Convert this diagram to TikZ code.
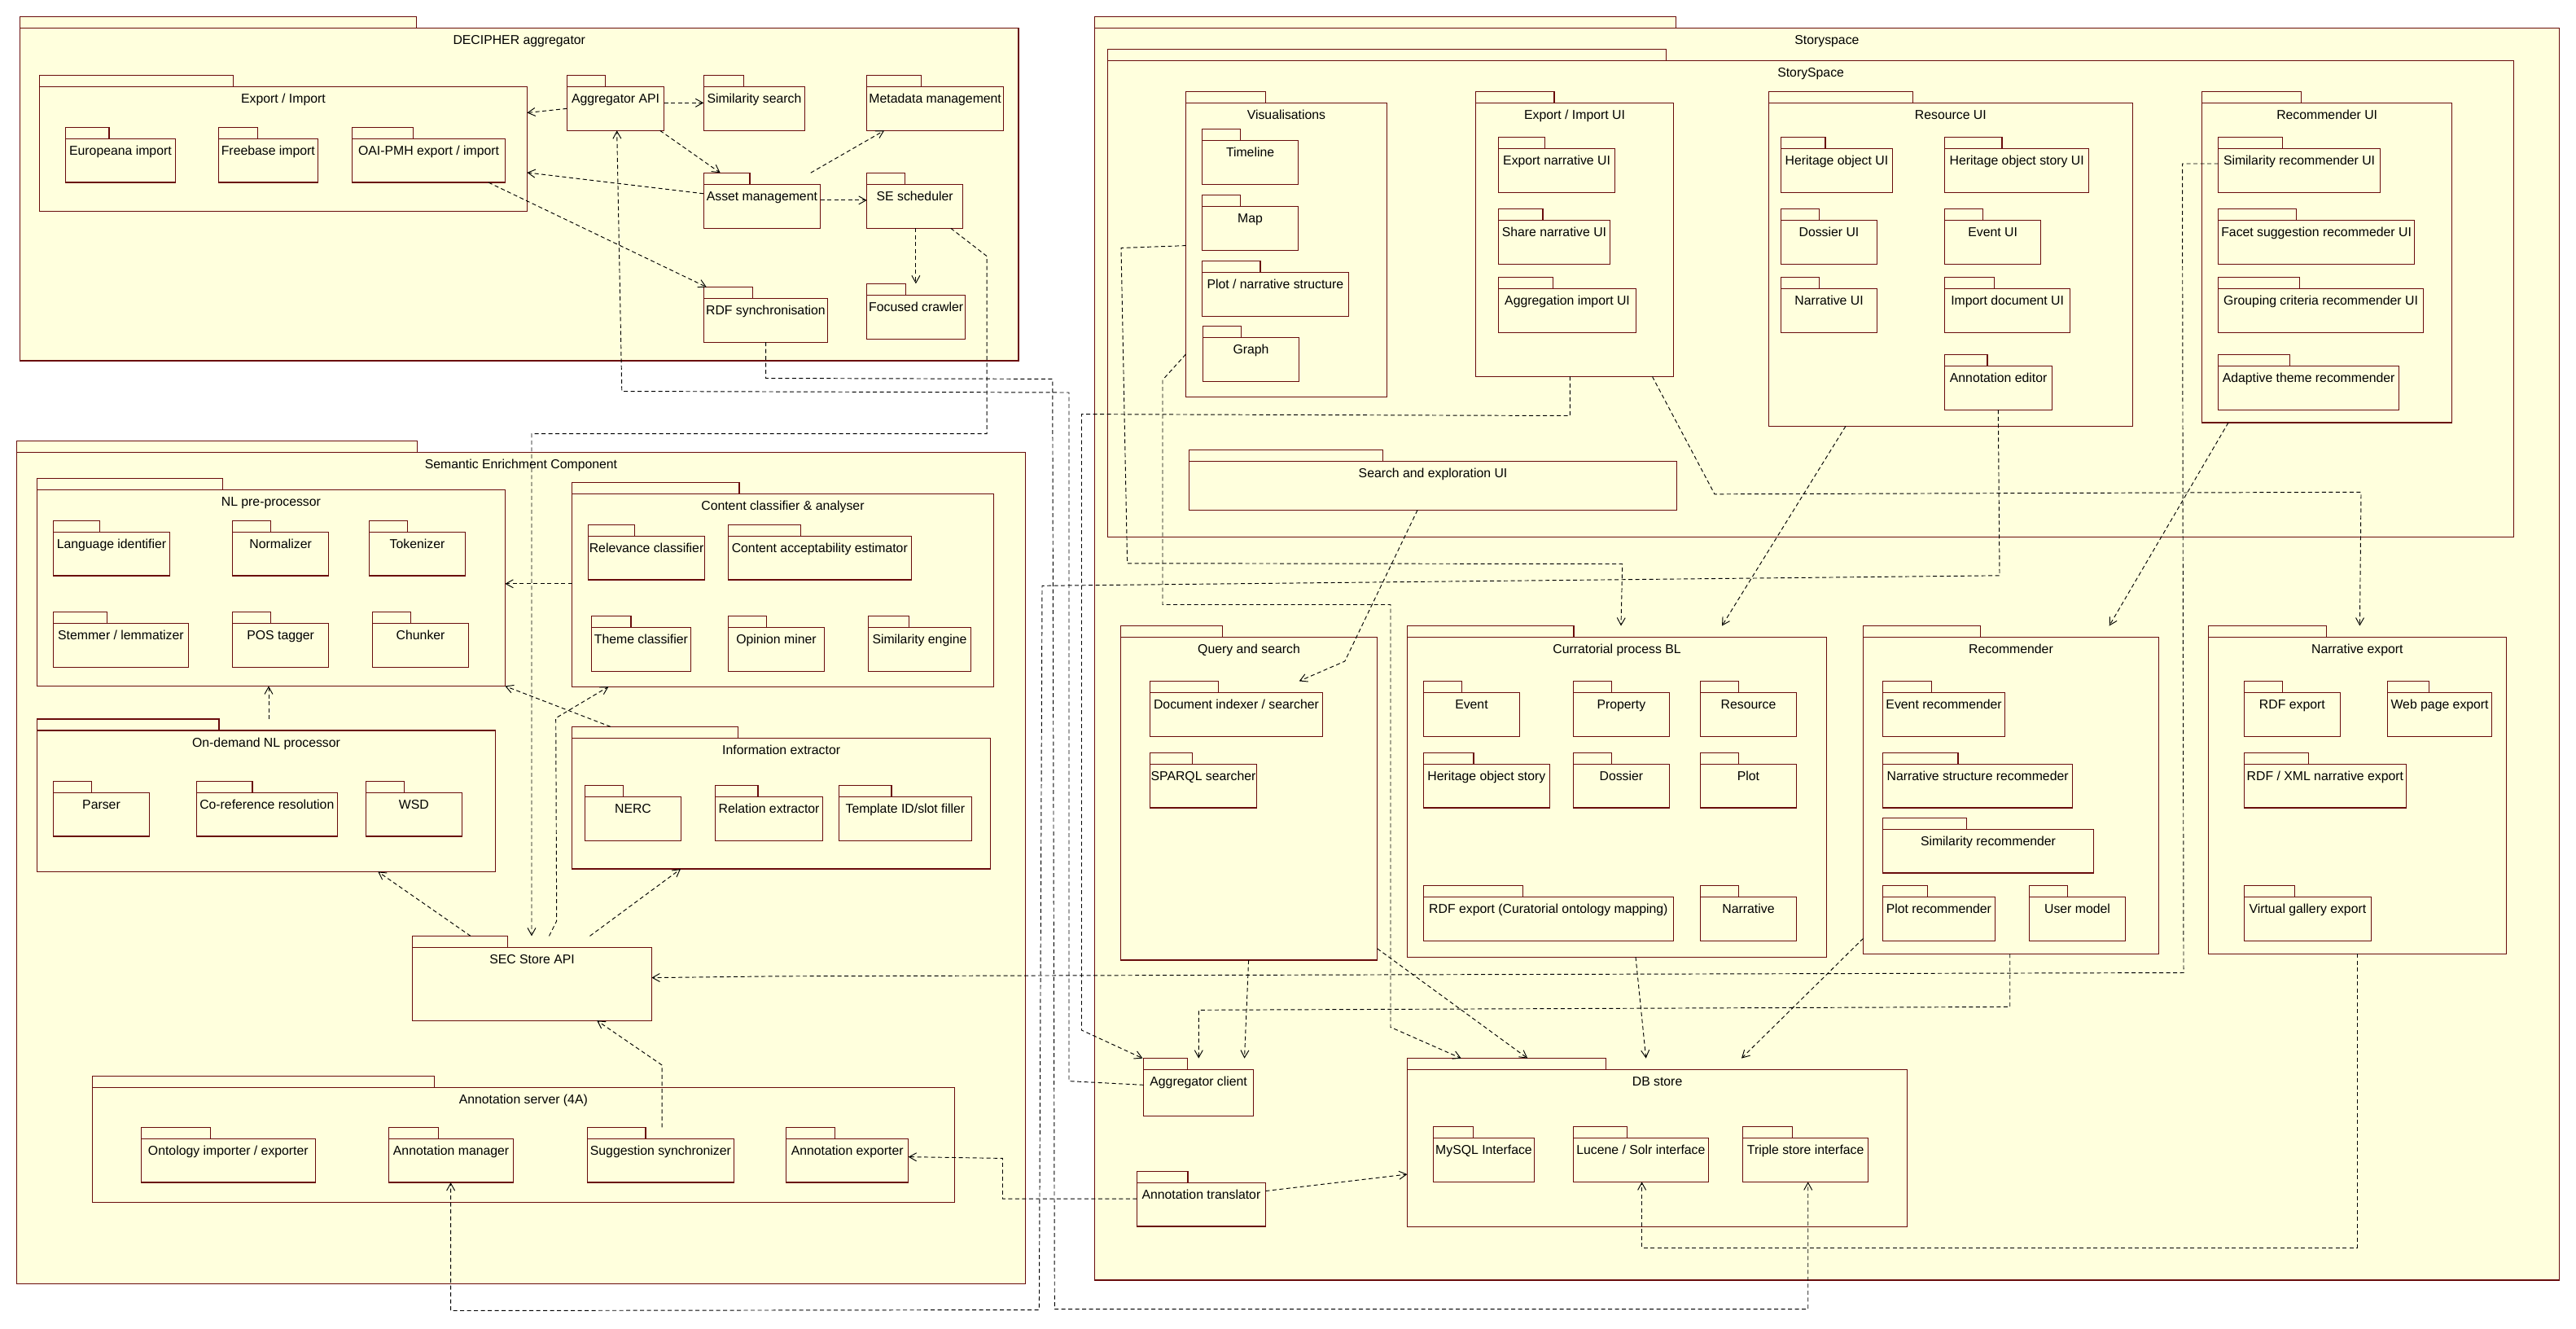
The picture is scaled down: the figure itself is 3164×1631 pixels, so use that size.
\documentclass[tikz,border=0pt]{standalone}
\usepackage{fontspec}
\setmainfont{Liberation Sans}
\usetikzlibrary{arrows.meta}
\definecolor{pkgborder}{RGB}{105,12,12}
\definecolor{pkgfill}{RGB}{255,255,221}
\tikzset{
  pkgbox/.style={draw=pkgborder, fill=pkgfill, line width=1.3pt, inner sep=0pt, outer sep=0pt, rectangle},
  pkgtab/.style={draw=pkgborder, fill=pkgfill, line width=1.3pt, inner sep=0pt, outer sep=0pt, rectangle, minimum height=14pt},
  pkgtext/.style={anchor=base, inner sep=0pt, font=\fontsize{15.8}{19}\selectfont, text=black},
  dep/.style={draw=black, line width=0.95pt, dash pattern=on 5pt off 3.5pt, -{Straight Barb[length=9pt,width=10pt]}}
}
\newcommand\umlpkg[6]{%
  \pgfmathsetmacro\pkW{#4-#2}%
  \pgfmathsetmacro\pkH{#5-#3}%
  \pgfmathsetmacro\pkT{0.397*(#4-#2)}%
  \node[pkgtab, minimum width=\pkT pt, anchor=south west] (#1-tab) at (#2,#3) {};%
  \node[pkgbox, minimum width=\pkW pt, minimum height=\pkH pt, anchor=north west] (#1) at (#2,#3) {};%
  \node[pkgtext] (#1-t) at ([yshift=-20pt]#1.north) {#6};%
}
\begin{document}
\begin{tikzpicture}[x=1pt,y=-1pt]
\fill[white] (0,0) rectangle (3164,1631);
\useasboundingbox (0,0) rectangle (3164,1631);

% ---------------- DECIPHER aggregator ----------------
\umlpkg{dec}{24.5}{34.4}{1251}{443}{DECIPHER aggregator}
\umlpkg{ei}{48.5}{106.3}{647.4}{259.2}{Export / Import}
\umlpkg{eur}{80.6}{170.5}{215.3}{224.1}{Europeana import}
\umlpkg{fb}{268.4}{170.5}{390.3}{224.1}{Freebase import}
\umlpkg{oai}{432.7}{170.5}{620.4}{224.1}{OAI-PMH export / import}
\umlpkg{aapi}{696.4}{106.3}{815.7}{160.3}{Aggregator API}
\umlpkg{sims}{864.2}{106.3}{988.7}{160.3}{Similarity search}
\umlpkg{meta}{1064.7}{106.3}{1232.6}{160.3}{Metadata management}
\umlpkg{asset}{864.2}{226.2}{1007.6}{280.3}{Asset management}
\umlpkg{sesch}{1064.7}{226.2}{1182.6}{280.3}{SE scheduler}
\umlpkg{rdfs}{864.2}{366.5}{1016.7}{420.2}{RDF synchronisation}
\umlpkg{fc}{1064.7}{362.3}{1185.6}{416.3}{Focused crawler}

% ---------------- Semantic Enrichment Component ----------------
\umlpkg{sec}{20.4}{555.4}{1259.6}{1576.3}{Semantic Enrichment Component}
\umlpkg{nlp}{45.4}{601.4}{620.4}{842.5}{NL pre-processor}
\umlpkg{langid}{65.3}{653.2}{208.7}{707.1}{Language identifier}
\umlpkg{norm}{285.7}{653.2}{403.6}{707.1}{Normalizer}
\umlpkg{tok}{453.6}{653.2}{571.4}{707.1}{Tokenizer}
\umlpkg{stem}{65.3}{765.4}{231.6}{819.3}{Stemmer / lemmatizer}
\umlpkg{pos}{285.7}{765.4}{403.6}{819.3}{POS tagger}
\umlpkg{chunk}{457.7}{765.4}{575.5}{819.3}{Chunker}
\umlpkg{odnl}{45.4}{897.1}{608.7}{1070.4}{On-demand NL processor}
\umlpkg{parser}{65.3}{973.2}{183.7}{1027.1}{Parser}
\umlpkg{coref}{241.3}{973.2}{414.3}{1027.1}{Co-reference resolution}
\umlpkg{wsd}{449.5}{973.2}{567.3}{1027.1}{WSD}
\umlpkg{cca}{702.6}{606.4}{1220.3}{843.2}{Content classifier \& analyser}
\umlpkg{relc}{722.4}{658.2}{865.7}{712.1}{Relevance classifier}
\umlpkg{cae}{894.3}{658.2}{1119.3}{712.1}{Content acceptability estimator}
\umlpkg{themec}{726.5}{770.4}{848.4}{824.3}{Theme classifier}
\umlpkg{opm}{894.3}{770.4}{1012.7}{824.3}{Opinion miner}
\umlpkg{sime}{1066.7}{770.4}{1192.2}{824.3}{Similarity engine}
\umlpkg{iex}{702.6}{906.4}{1216.7}{1067.1}{Information extractor}
\umlpkg{nerc}{718.4}{978.2}{836.6}{1032.5}{NERC}
\umlpkg{relx}{878.5}{978.2}{1010.6}{1032.5}{Relation extractor}
\umlpkg{tmpl}{1030.5}{978.2}{1193.3}{1032.5}{Template ID/slot filler}
\umlpkg{secapi}{506.6}{1163.4}{800.4}{1253.2}{SEC Store API}
\umlpkg{annsrv}{113.3}{1335.5}{1172.3}{1476.4}{Annotation server (4A)}
\umlpkg{ontie}{173.5}{1398.4}{387.2}{1452.1}{Ontology importer / exporter}
\umlpkg{annmgr}{477.6}{1398.4}{630.6}{1452.1}{Annotation manager}
\umlpkg{suggs}{721.4}{1398.4}{901.4}{1452.1}{Suggestion synchronizer}
\umlpkg{annexp}{965.7}{1398.4}{1115.7}{1452.1}{Annotation exporter}

% ---------------- Storyspace ----------------
\umlpkg{ss}{1344.3}{34.4}{3143.5}{1572}{Storyspace}
\umlpkg{ssi}{1360.6}{74.4}{3087.6}{659.3}{StorySpace}
\umlpkg{vis}{1456.5}{126.3}{1703.4}{487.2}{Visualisations}
\umlpkg{timeline}{1476.4}{172.2}{1594.7}{226.2}{Timeline}
\umlpkg{map}{1476.4}{253.2}{1594.7}{307.3}{Map}
\umlpkg{plotns}{1476.4}{334.3}{1656.4}{388.3}{Plot / narrative structure}
\umlpkg{graph}{1477.4}{414.2}{1595.7}{468.3}{Graph}
\umlpkg{eiui}{1812.6}{126.3}{2055.4}{462.3}{Export / Import UI}
\umlpkg{expn}{1840.6}{182.4}{1983.5}{236.4}{Export narrative UI}
\umlpkg{sharen}{1840.6}{270.4}{1977.3}{324.4}{Share narrative UI}
\umlpkg{aggimp}{1840.6}{354.3}{2009.5}{408.3}{Aggregation import UI}
\umlpkg{resui}{2172.2}{126.3}{2619.5}{523.3}{Resource UI}
\umlpkg{houi}{2187.6}{182.4}{2324.3}{236.4}{Heritage object UI}
\umlpkg{dosui}{2187.6}{270.4}{2305.4}{324.4}{Dossier UI}
\umlpkg{narui}{2187.6}{354.3}{2305.4}{408.3}{Narrative UI}
\umlpkg{hosui}{2388.7}{182.4}{2565.6}{236.4}{Heritage object story UI}
\umlpkg{evui}{2388.7}{270.4}{2506.7}{324.4}{Event UI}
\umlpkg{impdoc}{2388.7}{354.3}{2542.5}{408.3}{Import document UI}
\umlpkg{anned}{2388.7}{449.3}{2520.5}{503.3}{Annotation editor}
\umlpkg{recui}{2704.6}{126.3}{3011.7}{519.1}{Recommender UI}
\umlpkg{simrui}{2724.6}{182.4}{2923.5}{236.4}{Similarity recommender UI}
\umlpkg{facet}{2724.6}{270.4}{2965.6}{324.4}{Facet suggestion recommeder UI}
\umlpkg{group}{2724.6}{354.3}{2976.4}{408.3}{Grouping criteria recommender UI}
\umlpkg{adapt}{2724.6}{449.3}{2946.6}{503.3}{Adaptive theme recommender}
\umlpkg{seui}{1460.6}{566.4}{2059.5}{626.4}{Search and exploration UI}
\umlpkg{qs}{1376.4}{782.5}{1691.6}{1179.1}{Query and search}
\umlpkg{docidx}{1412.7}{850.4}{1624.3}{904.3}{Document indexer / searcher}
\umlpkg{sparql}{1412.7}{938.2}{1543.3}{992.1}{SPARQL searcher}
\umlpkg{cpbl}{1728.4}{782.5}{2243.7}{1175.2}{Curratorial process BL}
\umlpkg{ev}{1748.3}{850.4}{1866.6}{904.3}{Event}
\umlpkg{prop}{1932.4}{850.4}{2050.3}{904.3}{Property}
\umlpkg{res}{2088.6}{850.4}{2206.4}{904.3}{Resource}
\umlpkg{hos}{1748.3}{938.2}{1903.4}{992.1}{Heritage object story}
\umlpkg{dos}{1932.4}{938.2}{2050.3}{992.1}{Dossier}
\umlpkg{plot}{2088.6}{938.2}{2206.4}{992.1}{Plot}
\umlpkg{rdfexp}{1748.3}{1101.5}{2055.4}{1155.2}{RDF export (Curatorial ontology mapping)}
\umlpkg{narr}{2088.6}{1101.5}{2206.4}{1155.2}{Narrative}
\umlpkg{rec}{2288.6}{782.5}{2651.3}{1171.3}{Recommender}
\umlpkg{evrec}{2312.6}{850.4}{2462.6}{904.3}{Event recommender}
\umlpkg{nsrec}{2312.6}{938.2}{2545.6}{992.1}{Narrative structure recommeder}
\umlpkg{simrec}{2312.6}{1018.2}{2571.3}{1072.1}{Similarity recommender}
\umlpkg{plotrec}{2312.6}{1101.5}{2450.2}{1155.2}{Plot recommender}
\umlpkg{umodel}{2492.3}{1101.5}{2610.7}{1155.2}{User model}
\umlpkg{nexp}{2712.3}{782.5}{3078.4}{1171.3}{Narrative export}
\umlpkg{rdfe}{2756.4}{850.4}{2874.3}{904.3}{RDF export}
\umlpkg{webe}{2932.8}{850.4}{3060.4}{904.3}{Web page export}
\umlpkg{rdfxml}{2756.4}{938.2}{2955.3}{992.1}{RDF / XML narrative export}
\umlpkg{vge}{2756.4}{1101.5}{2912.3}{1155.2}{Virtual gallery export}
\umlpkg{db}{1728.4}{1313.6}{2342.7}{1506.5}{DB store}
\umlpkg{mysql}{1760.5}{1397.4}{1884.5}{1451.4}{MySQL Interface}
\umlpkg{lucene}{1932.4}{1397.4}{2098.3}{1451.4}{Lucene / Solr interface}
\umlpkg{triple}{2140.6}{1397.4}{2294.7}{1451.4}{Triple store interface}
\umlpkg{aggc}{1404.5}{1313.6}{1539.7}{1370.2}{Aggregator client}
\umlpkg{anntr}{1396.3}{1452.5}{1554.5}{1506.1}{Annotation translator}

% ---------------- dependencies ----------------
% DECIPHER internal
\draw[dep] (aapi.west |- 0,133.3) -- (ei.east |- 0,138.5);
\draw[dep] (asset.west |- 0,237.8) -- (ei.east |- 0,211.9);
\draw[dep] (oai.south -| 600,0) -- (rdfs-tab.north -| 867.8,0);
\draw[dep] (aapi.east |- 0,126.3) -- (sims.west |- 0,126.3);
\draw[dep] (aapi.south -| 810.6,0) -- (asset-tab.north -| 884.6,0);
\draw[dep] (asset-tab.north -| 995.8,0) -- (meta.south -| 1086.1,0);
\draw[dep] (asset.east |- 0,245.9) -- (sesch.west |- 0,245.9);
\draw[dep] (sesch.south -| 1124.9,0) -- (fc-tab.north -| 1124.9,0);
% cross-component
\draw[dep] (sesch.south -| 1167.8,0) -- (1212.1,314.6) -- (1212.1,532.7) -- (653,532.7) -- (secapi-tab.north -| 653,0);
\draw[dep] (aggc.west |- 0,1332.3) -- (1313,1327.6) -- (1313,482) -- (763.8,480.5) -- (aapi.south -| 757.7,0);
\draw[dep] (rdfs.south -| 940.7,0) -- (940.7,464.5) -- (1292.8,465.4) -- (1295.3,1607.7) -- (2220.7,1607.7) -- (triple.south -| 2220.7,0);
\draw[dep] (anned.south -| 2454.3,0) -- (2456,706.8) -- (1280,719.3) -- (1276.4,1608.5) -- (553.6,1609.5) -- (annmgr.south -| 553.6,0);
\draw[dep] (vis.west |- 0,301.6) -- (1377,304.5) -- (1384.6,691.8) -- (1992.7,692.5) -- (cpbl-tab.north -| 1991,0);
\draw[dep] (vis.west |- 0,435) -- (1428,466.5) -- (1428,742.5) -- (1708,742.5) -- (1708,1261.4) -- (db-tab.north -| 1794.7,0);
\draw[dep] (eiui.south -| 1928.4,0) -- (1928.4,510.5) -- (1328.5,508.6) -- (1328.5,1265) -- (aggc-tab.north -| 1403.5,0);
\draw[dep] (eiui.south -| 2029.4,0) -- (2106,606.8) -- (2900,604.3) -- (nexp-tab.north -| 2898.4,0);
\draw[dep] (seui.south -| 1741,0) -- (1651.8,812) -- (docidx-tab.north -| 1595.7,0);
\draw[dep] (resui.south -| 2267,0) -- (cpbl-tab.north -| 2115,0);
\draw[dep] (recui.south -| 2736.9,0) -- (rec-tab.north -| 2590.7,0);
\draw[dep] (simrui.west |- 0,201) -- (2680.5,201) -- (2682,1194.5) -- (956,1198.8) -- (secapi.east |- 0,1200.6);
\draw[dep] (rec.south -| 2468.7,0) -- (2468.7,1236.4) -- (1472.3,1240.3) -- (aggc-tab.north -| 1472.3,0);
\draw[dep] (qs.south -| 1533.6,0) -- (aggc-tab.north -| 1528.5,0);
\draw[dep] (qs.east |- 0,1164.8) -- (db-tab.north -| 1876.3,0);
\draw[dep] (cpbl.south -| 2009,0) -- (db-tab.north -| 2021.7,0);
\draw[dep] (rec.west |- 0,1152.3) -- (db-tab.north -| 2139,0);
\draw[dep] (nexp.south -| 2895.3,0) -- (2895.3,1532.3) -- (2016.6,1532.3) -- (lucene.south -| 2016.6,0);
\draw[dep] (anntr.east |- 0,1462.5) -- (db.west |- 0,1442);
\draw[dep] (anntr.west |- 0,1472.1) -- (1231.5,1472.1) -- (1231.5,1422.4) -- (annexp.east |- 0,1420.6);
% SEC internal
\draw[dep] (cca.west |- 0,716.8) -- (nlp.east |- 0,716.8);
\draw[dep] (odnl-tab.north -| 330,0) -- (nlp.south -| 330,0);
\draw[dep] (iex-tab.north -| 750,0) -- (nlp.south east);
\draw[dep] (secapi-tab.north -| 674.5,0) -- (683.7,1131) -- (682.7,881.8) -- (cca.south -| 747.4,0);
\draw[dep] (secapi-tab.north -| 578,0) -- (odnl.south -| 464.3,0);
\draw[dep] (secapi-tab.north -| 724.5,0) -- (iex.south -| 836,0);
\draw[dep] (suggs-tab.north -| 813.2,0) -- (813.2,1308) -- (secapi.south -| 733.2,0);
\end{tikzpicture}
\end{document}
